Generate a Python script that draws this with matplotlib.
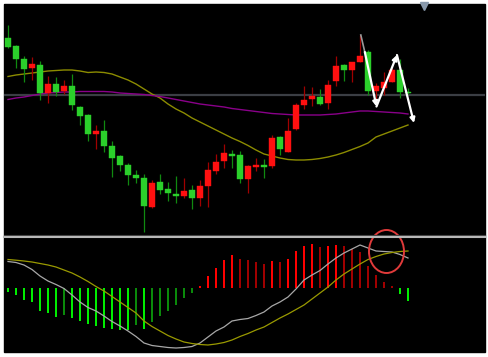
import matplotlib
matplotlib.use("Agg")
import matplotlib.pyplot as plt
from matplotlib.patches import Ellipse, Rectangle
from matplotlib.lines import Line2D
import numpy as np

# candle data (open, high, low, close)
opens = [46.2, 45.4, 44.1, 43.2, 43.5, 40.7, 41.6, 40.9, 41.4, 39.3,
         38.5, 36.6, 36.9, 35.4, 34.4, 33.5, 32.5, 32.2, 29.3, 31.8,
         31.1, 30.6, 30.4, 31.0, 30.2, 31.4, 32.9, 33.9, 34.6, 34.5,
         32.1, 33.3, 33.5, 33.4, 36.3, 34.8, 37.1, 39.5, 40.1, 40.3,
         39.7, 41.9, 43.5, 43.0, 43.8, 44.8, 40.9, 41.2, 41.8, 43.0, 40.8]
highs = [47.5, 45.5, 44.4, 44.3, 43.9, 42.4, 42.3, 42.0, 42.6, 39.4,
         38.6, 37.5, 38.0, 35.9, 34.5, 33.7, 33.0, 32.6, 32.0, 32.6,
         31.8, 32.4, 32.2, 31.5, 32.0, 33.8, 34.6, 35.6, 35.0, 34.9,
         33.5, 34.2, 34.1, 36.5, 36.4, 38.2, 39.7, 41.4, 41.3, 41.1,
         42.0, 44.4, 43.6, 43.8, 46.5, 45.0, 41.7, 42.8, 43.2, 44.1, 41.2]
lows = [45.2, 43.2, 41.8, 42.0, 40.0, 39.7, 40.4, 40.6, 39.0, 37.5,
        35.9, 35.1, 34.8, 32.3, 32.9, 31.5, 31.7, 26.8, 29.2, 30.6,
        29.9, 29.7, 30.2, 29.1, 29.4, 29.3, 32.6, 33.2, 33.2, 31.7,
        30.7, 32.9, 32.2, 33.2, 34.5, 34.8, 37.0, 39.1, 39.4, 39.5,
        39.1, 41.4, 41.9, 41.8, 43.8, 40.5, 40.0, 40.5, 41.8, 40.2, 40.6]
closes = [45.3, 44.1, 43.1, 43.6, 40.7, 41.6, 40.8, 41.4, 39.5, 38.4,
          36.6, 36.9, 35.4, 34.2, 33.5, 32.5, 32.2, 29.4, 31.7, 31.0,
          30.7, 30.4, 30.9, 30.2, 31.4, 33.0, 33.8, 34.7, 34.45, 32.1,
          33.4, 33.5, 33.35, 36.2, 35.1, 36.9, 39.5, 40.0, 40.4, 39.6,
          41.5, 43.4, 43.0, 43.8, 44.4, 40.9, 41.4, 41.8, 43.0, 40.8, 40.7]

# moving averages
ma_slow = [42.35, 42.5, 42.6, 42.7, 42.8, 42.9, 42.95, 43.0, 43.0, 42.9,
           42.75, 42.8, 42.75, 42.6, 42.3, 42.0, 41.6, 41.1, 40.6, 40.2,
           39.6, 39.1, 38.7, 38.2, 37.8, 37.4, 37.0, 36.6, 36.2, 35.85,
           35.45, 35.0, 34.6, 34.4, 34.2, 34.05, 34.0, 34.0, 34.05, 34.15,
           34.3, 34.5, 34.75, 35.05, 35.35, 35.7, 36.3, 36.6, 36.9, 37.2, 37.5]
ma_long = [40.05, 40.2, 40.3, 40.45, 40.6, 40.7, 40.75, 40.8, 40.8, 40.85,
           40.85, 40.85, 40.85, 40.8, 40.7, 40.65, 40.6, 40.55, 40.45, 40.35,
           40.2, 40.05, 39.9, 39.75, 39.6, 39.5, 39.4, 39.3, 39.15, 39.05,
           38.95, 38.85, 38.75, 38.65, 38.6, 38.55, 38.5, 38.5, 38.5, 38.5,
           38.55, 38.6, 38.7, 38.8, 38.9, 38.9, 38.85, 38.8, 38.75, 38.7, 38.6]
level = 40.55

# MACD panel
hist = [-0.04, -0.07, -0.12, -0.14, -0.23, -0.25, -0.29, -0.27, -0.30, -0.33,
        -0.36, -0.38, -0.40, -0.41, -0.415, -0.42, -0.37, -0.41, -0.34, -0.28,
        -0.23, -0.17, -0.10, -0.05, 0.02, 0.12, 0.20, 0.28, 0.33, 0.29,
        0.28, 0.26, 0.24, 0.27, 0.26, 0.29, 0.37, 0.42, 0.44, 0.41,
        0.42, 0.43, 0.42, 0.39, 0.36, 0.22, 0.13, 0.06, 0.02, -0.06, -0.13]
macd = [0.265, 0.255, 0.23, 0.185, 0.12, 0.07, 0.035, -0.005, -0.07, -0.14,
        -0.195, -0.23, -0.28, -0.335, -0.38, -0.43, -0.485, -0.55, -0.575, -0.585,
        -0.595, -0.60, -0.595, -0.585, -0.55, -0.49, -0.43, -0.39, -0.33, -0.315,
        -0.305, -0.275, -0.24, -0.18, -0.14, -0.09, -0.01, 0.08, 0.13, 0.175,
        0.24, 0.30, 0.35, 0.39, 0.43, 0.40, 0.37, 0.365, 0.36, 0.335, 0.30]
signal = [0.285, 0.278, 0.27, 0.26, 0.245, 0.23, 0.21, 0.18, 0.15, 0.11,
          0.065, 0.015, -0.03, -0.085, -0.14, -0.195, -0.25, -0.33, -0.385, -0.43,
          -0.475, -0.51, -0.54, -0.555, -0.565, -0.57, -0.56, -0.545, -0.52, -0.485,
          -0.455, -0.42, -0.39, -0.345, -0.30, -0.26, -0.215, -0.17, -0.11, -0.05,
          0.01, 0.08, 0.14, 0.19, 0.24, 0.285, 0.315, 0.34, 0.355, 0.365, 0.37]

# hand drawn zigzag (index, price)
zig_x = [44.6, 46.06, 48.62, 50.75]
zig_y = [44.8, 39.35, 44.5, 37.7]

W, H = 489, 357
fig = plt.figure(figsize=(W / 100, H / 100), dpi=100, facecolor="white")
fig.patches.append(Rectangle((4 / W, 1 - 352 / H), 481 / W, 348 / H,
                             transform=fig.transFigure, color="black", zorder=-10))

ax = fig.add_axes([4 / W, 1 - 236 / H, 481 / W, 232 / H], facecolor="black")
ax2 = fig.add_axes([4 / W, 1 - 352 / H, 481 / W, 114 / H], facecolor="black")
for a in (ax, ax2):
    a.set_xlim(-0.5, 59.625)
    a.set_xticks([])
    a.set_yticks([])
    for s in a.spines.values():
        s.set_visible(False)
ax.set_ylim(26.4, 49.6)
ax2.set_ylim(-0.64, 0.50)

idx = np.arange(len(opens))
o = np.array(opens)
c = np.array(closes)
up = c > o
body_col = np.where(up, "#ff1010", "#2bd02b")
wick_col = np.where(up, "#a00000", "#108a10")

ax.axhline(level, color="#3b3e44", lw=1.6, zorder=1)
ax.plot(idx, ma_slow, color="#8c8c00", lw=1.0, zorder=2)
ax.plot(idx, ma_long, color="#8a008a", lw=1.0, zorder=2)

ax.vlines(idx, lows, highs, colors=wick_col, lw=0.9, zorder=3)
bottoms = np.minimum(o, c)
heights = np.maximum(np.abs(c - o), 0.15)
ax.bar(idx, heights, bottom=bottoms, width=0.72, color=body_col,
       edgecolor=body_col, lw=0.3, zorder=4)

# zigzag arrows
ax.plot([44.1, zig_x[0]], [46.5, zig_y[0]], color="#9a9a9a", lw=1.2, zorder=5)
for k in range(3):
    ax.annotate("", xy=(zig_x[k + 1], zig_y[k + 1]), xytext=(zig_x[k], zig_y[k]),
                arrowprops=dict(arrowstyle="-|>", color="white", lw=1.6,
                                mutation_scale=7, shrinkA=0, shrinkB=0),
                zorder=6)

ax.plot([52.0], [49.45], marker="v", ms=6, color="#8898aa", clip_on=False, zorder=7)

# MACD histogram: bright when growing, dark when shrinking
hist_cols = []
for i, v in enumerate(hist):
    grow = i == 0 or abs(v) >= abs(hist[i - 1]) or np.sign(v) != np.sign(hist[i - 1])
    if v >= 0:
        hist_cols.append("#ff0000" if grow else "#a00000")
    else:
        hist_cols.append("#00ee00" if grow else "#0a8a0a")
ax2.bar(idx, hist, width=0.26, color=hist_cols, zorder=2)
ax2.plot(idx, macd, color="#a8a8a8", lw=0.9, zorder=3)
ax2.plot(idx, signal, color="#9a9a00", lw=0.9, zorder=3)

ax2.add_patch(Ellipse((47.31, 0.365), 4.375, 0.43, fill=False,
                      edgecolor="#e03a3a", lw=1.4, clip_on=False, zorder=5))

# panel separator
fig.lines.append(Line2D([4 / W, 485 / W], [1 - 235 / H, 1 - 235 / H],
                        transform=fig.transFigure, color="#404040", lw=0.8))
fig.lines.append(Line2D([4 / W, 485 / W], [1 - 237 / H, 1 - 237 / H],
                        transform=fig.transFigure, color="#b8b8b8", lw=1.5))

fig.savefig("out.png", dpi=100, facecolor="white")
